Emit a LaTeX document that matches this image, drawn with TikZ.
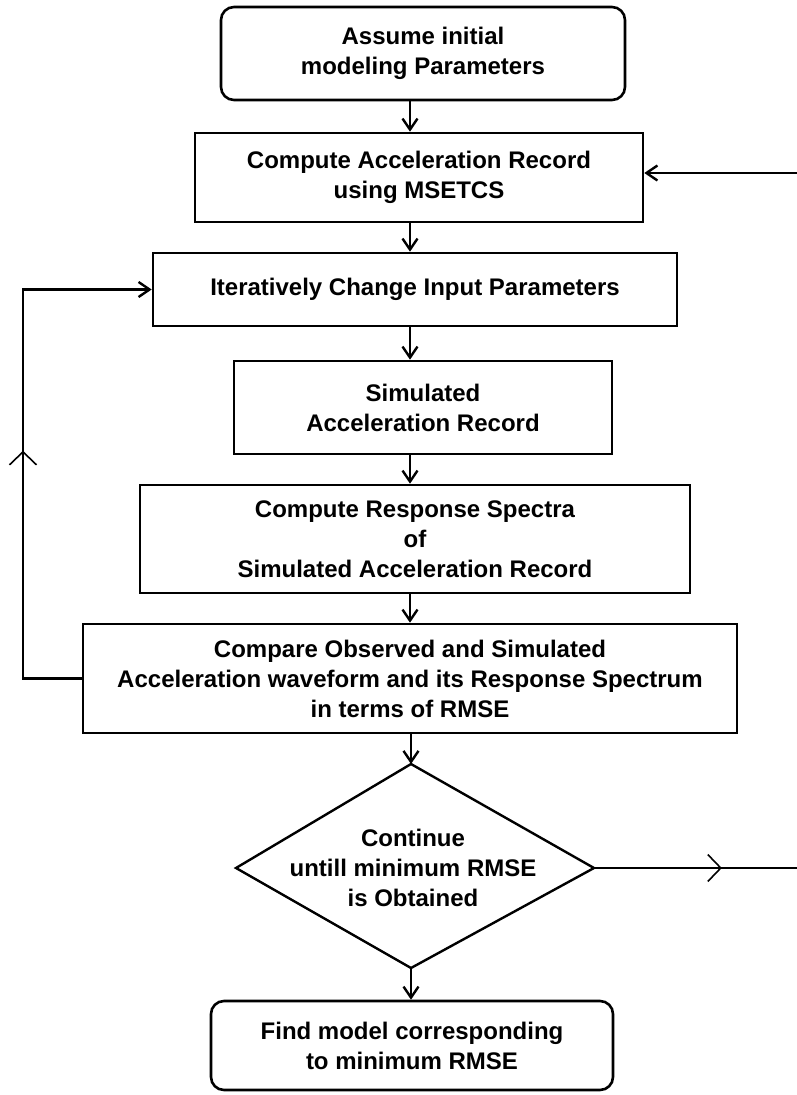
\documentclass[tikz,border=0pt]{standalone}
\usepackage{fontspec}
\setmainfont{Liberation Sans}
\usetikzlibrary{arrows.meta,decorations.markings}
\begin{document}
\begin{tikzpicture}[x=1pt,y=-1pt,
  txt/.style={align=center,inner sep=0pt,font=\fontsize{24}{30}\selectfont\bfseries},
  box/.style={txt,draw,line width=2.6pt},
  rbox/.style={box,rounded corners=13pt},
  conn/.style={line width=2.4pt,-{Straight Barb[length=11pt,width=15pt,line width=2.4pt]}},
  loopline/.style={line width=2.4pt},
  midarrow/.style={postaction={decorate},decoration={markings,
    mark=at position #1 with {\arrow[line width=1.6pt]{Straight Barb[length=13pt,width=27pt]}}}}
]
\useasboundingbox (0,0) rectangle (797,1095);
\node[rbox,minimum width=404pt,minimum height=93pt] (b1) at (423,53.5) {Assume initial\\modeling Parameters};
\node[box,minimum width=448pt,minimum height=89pt] (b2) at (419,177.5) {Compute Acceleration Record\\using MSETCS};
\node[box,minimum width=524pt,minimum height=73pt] (b3) at (415,289.5) {Iteratively Change Input Parameters};
\node[box,minimum width=378pt,minimum height=93pt] (b4) at (423,407.5) {Simulated\\Acceleration Record};
\node[box,minimum width=550pt,minimum height=108pt] (b5) at (415,539) {Compute Response Spectra\\of\\Simulated Acceleration Record};
\node[box,minimum width=654pt,minimum height=109pt] (b6) at (410,678.5) {Compare Observed and Simulated\\Acceleration waveform and its Response Spectrum\\in terms of RMSE};
\node[txt] (d) at (413,868) {Continue\\untill minimum RMSE\\is Obtained};
\coordinate (dn) at (411,764);
\coordinate (ds) at (411,968);
\coordinate (dw) at (236,868);
\coordinate (de) at (594,868);
\draw[line width=2.4pt,line join=miter] (dn) -- (de) -- (ds) -- (dw) -- cycle;
\node[rbox,minimum width=402pt,minimum height=89pt] (b7) at (412,1045.5) {Find model corresponding\\to minimum RMSE};

\coordinate (col) at (410,0);
\coordinate (rin) at (797,173);
\coordinate (lx) at (23,0);
\coordinate (rout) at (797,0);

\draw[conn] (b1.south -| col) -- (b2.north -| col);
\draw[conn] (b2.south -| col) -- (b3.north -| col);
\draw[conn] (b3.south -| col) -- (b4.north -| col);
\draw[conn] (b4.south -| col) -- (b5.north -| col);
\draw[conn] (b5.south -| col) -- (b6.north -| col);
\draw[conn] (b6.south -| dn) -- (dn);
\draw[conn] (ds) -- (b7.north -| ds);
\draw[conn] (rin) -- (b2.east |- rin);
\draw[conn,midarrow=0.497] (b6.west) -- (b6.west -| lx) -- (b3.west -| lx) -- (b3.west);
\draw[loopline,midarrow=0.63] (de) -- (de -| rout);
\end{tikzpicture}
\end{document}
